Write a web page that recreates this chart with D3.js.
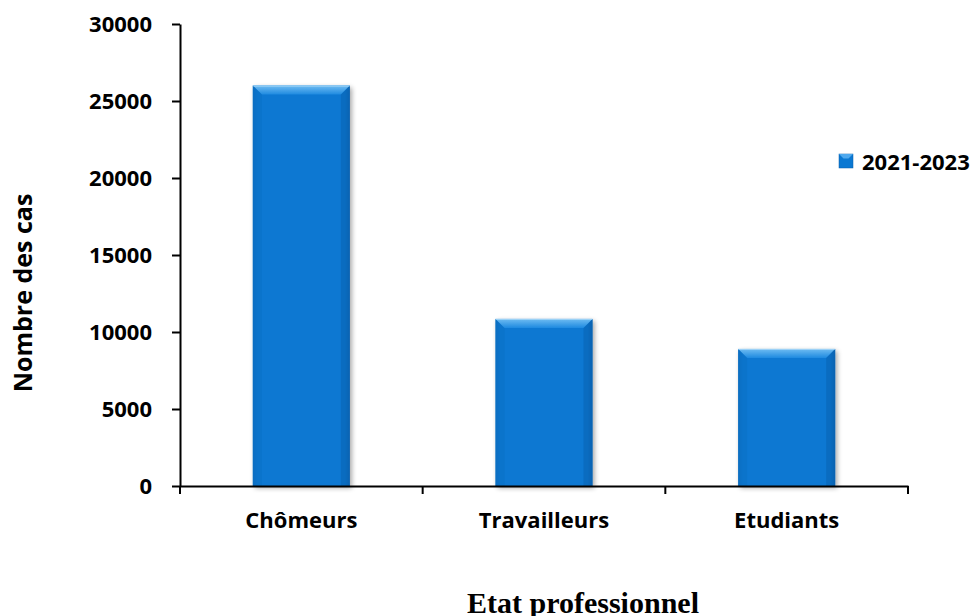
<!DOCTYPE html>
<html><head><meta charset="utf-8">
<script src="https://cdn.jsdelivr.net/npm/d3@7"></script>
<style>body{margin:0;background:#fff}svg{display:block}</style>
</head><body>
<script>
const categories = ["Chômeurs", "Travailleurs", "Etudiants"];
const values = [26000, 10850, 8900];
const yTicks = [0, 5000, 10000, 15000, 20000, 25000, 30000];
const seriesName = "2021-2023";

const W = 976, H = 616;
const svg = d3.select("body").append("svg").attr("width", W).attr("height", H);
const defs = svg.append("defs");
const g1 = defs.append("linearGradient").attr("id","barg").attr("x1","0").attr("x2","1").attr("y1","0").attr("y2","0");
g1.append("stop").attr("offset","0").attr("stop-color","#0a6cc0");
g1.append("stop").attr("offset","0.05").attr("stop-color","#0b78d2");
g1.append("stop").attr("offset","0.95").attr("stop-color","#0b78d2");
g1.append("stop").attr("offset","1").attr("stop-color","#0865b4");
const gt = defs.append("linearGradient").attr("id","topg").attr("x1","0").attr("x2","0").attr("y1","0").attr("y2","1");
gt.append("stop").attr("offset","0").attr("stop-color","#6fbcf2");
gt.append("stop").attr("offset","1").attr("stop-color","#1e8ae0");
const f = defs.append("filter").attr("id","sh").attr("x","-20%").attr("y","-20%").attr("width","140%").attr("height","140%");
f.append("feGaussianBlur").attr("in","SourceAlpha").attr("stdDeviation","2.5");
f.append("feOffset").attr("dx","2").attr("dy","2").attr("result","b");
f.append("feComponentTransfer").append("feFuncA").attr("type","linear").attr("slope","0.35");
const m = f.append("feMerge"); m.append("feMergeNode"); m.append("feMergeNode").attr("in","SourceGraphic");

const x = d3.scaleBand().domain(categories).range([180, 908]).paddingInner(0.6).paddingOuter(0.3);
const y = d3.scaleLinear().domain([0, 30000]).range([486, 24]);

const font = "'Open Sans', sans-serif";

// bars
const bars = svg.append("g");
categories.forEach((c, i) => {
  const x0 = x(c), bw = x.bandwidth(), y0 = y(values[i]), h = y(0) - y0;
  const grp = bars.append("g");
  grp.append("rect").attr("x", x0).attr("y", y0).attr("width", bw).attr("height", h)
    .attr("fill", "url(#barg)").attr("filter", "url(#sh)");
  const b = 9;
  grp.append("path").attr("d", `M${x0},${y0}L${x0+bw},${y0}L${x0+bw-b},${y0+b}L${x0+b},${y0+b}Z`).attr("fill","url(#topg)");
  grp.append("line").attr("x1", x0).attr("x2", x0+bw).attr("y1", y0+0.5).attr("y2", y0+0.5).attr("stroke","#9fd3f7").attr("stroke-width",1);
  grp.append("path").attr("d", `M${x0},${y0}L${x0+b},${y0+b}L${x0+b},${y0+h}L${x0},${y0+h}Z`).attr("fill","#0a6fc4").attr("opacity",0.5);
  grp.append("path").attr("d", `M${x0+bw},${y0}L${x0+bw-b},${y0+b}L${x0+bw-b},${y0+h}L${x0+bw},${y0+h}Z`).attr("fill","#0760ad").attr("opacity",0.5);
});

// y axis
const ya = svg.append("g").attr("transform","translate(180,0)")
  .call(d3.axisLeft(y).tickValues(yTicks).tickSize(8).tickSizeOuter(0).tickPadding(20).tickFormat(d3.format("d")));
ya.select(".domain").attr("stroke","#000").attr("stroke-width",2);
ya.selectAll(".tick line").attr("stroke","#000").attr("stroke-width",2);
ya.selectAll(".tick text").attr("font-family",font).attr("font-weight","bold").attr("font-size","22px").attr("fill","#000");

// x axis
const xa = svg.append("g").attr("transform","translate(0,486)")
  .call(d3.axisBottom(x).tickSize(0).tickPadding(26));
xa.select(".domain").attr("stroke","#000").attr("stroke-width",2);
xa.selectAll(".tick text").attr("font-family",font).attr("font-weight","bold").attr("font-size","22px").attr("fill","#000");
const bounds = d3.range(categories.length + 1).map(i => 180 + i * (908 - 180) / categories.length);
xa.selectAll(".bnd").data(bounds).enter().append("line").attr("class","bnd")
  .attr("x1", d => d).attr("x2", d => d).attr("y1", 0).attr("y2", 8).attr("stroke","#000").attr("stroke-width",2);

// axis titles
svg.append("text").attr("transform","translate(32,293) rotate(-90)").attr("text-anchor","middle")
  .attr("font-family",font).attr("font-weight","bold").attr("font-size","25px").text("Nombre des cas");
svg.append("text").attr("x", 583).attr("y", 613).attr("text-anchor","middle")
  .attr("font-family","'Liberation Serif', 'Times New Roman', serif").attr("font-weight","bold").attr("font-size","30px").text("Etat professionnel");

// legend
const lg = svg.append("g").attr("transform","translate(839,154)");
lg.append("rect").attr("width",14).attr("height",14).attr("fill","#0b78d2").attr("stroke","#0a5ea8").attr("stroke-width",0.5);
lg.append("path").attr("d","M0,0L14,0L9.5,4.5L4.5,4.5Z").attr("fill","#4fa9ee");
lg.append("text").attr("x",23).attr("y",16).attr("font-family",font).attr("font-weight","bold").attr("font-size","22px").text(seriesName);
</script>
</body></html>
